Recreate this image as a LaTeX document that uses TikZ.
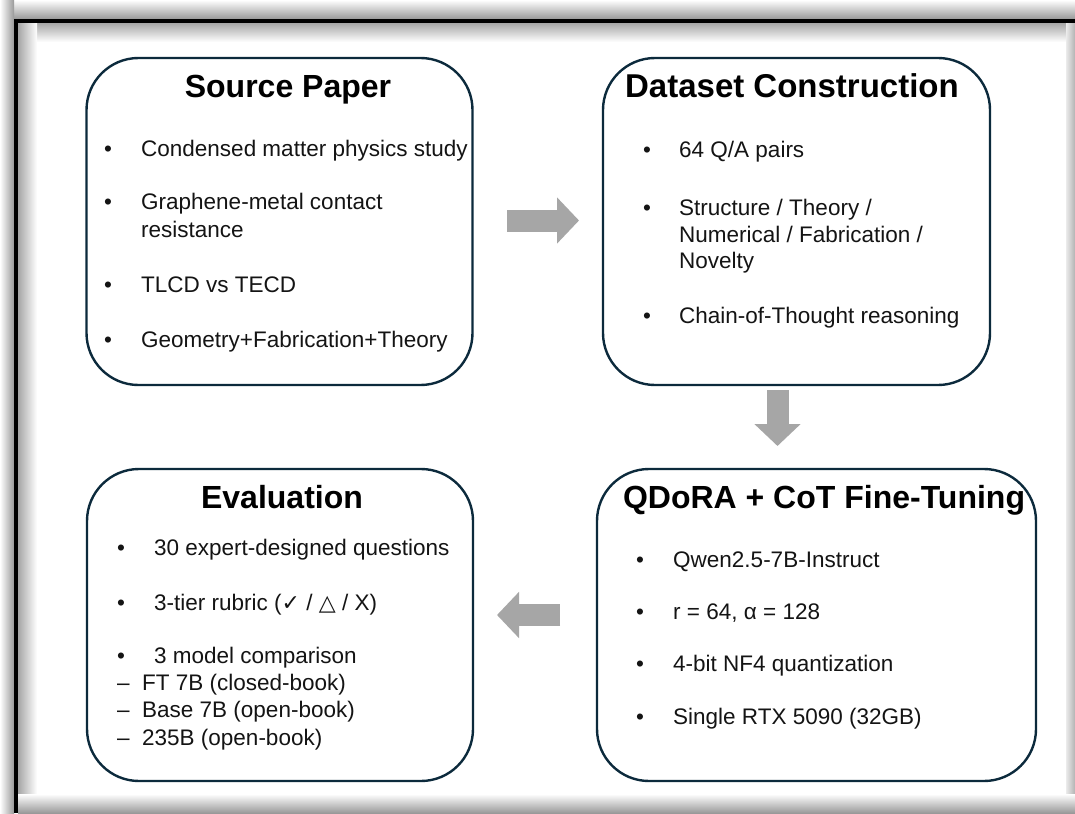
\documentclass[tikz,border=0pt]{standalone}
\usepackage{fontspec}
\setmainfont{Liberation Sans}
\newfontfamily\symfont{DejaVu Sans}
\usetikzlibrary{arrows.meta,calc}
\definecolor{boxline}{HTML}{0C2A3C}
\definecolor{arrowgray}{HTML}{A6A6A6}
\definecolor{textgray}{HTML}{141414}

\begin{document}
\begin{tikzpicture}[x=1pt,y=-1pt]
\tikzset{
  stage/.style={draw=boxline, line width=2.4pt, rounded corners=52pt, fill=white,
    inner sep=0pt, outer sep=0pt},
  heading/.style={font=\bfseries\fontsize{32}{38}\selectfont, anchor=base, inner sep=0pt},
  entry/.style={font=\fontsize{22.5}{27}\selectfont, text=textgray, anchor=base west, inner sep=0pt},
  dot/.style={font=\fontsize{22.5}{27}\selectfont, text=textgray, anchor=base, inner sep=0pt},
  flow/.style={draw=arrowgray, line width=22pt, -{Triangle[length=22pt,width=45pt]}},
}
\useasboundingbox (0,0) rectangle (1075,813);

% frame with shadow
\fill[white] (0,0) rectangle (1075,813);
\shade[top color=white, bottom color=black!40] (0,0) rectangle (1075,19);
\shade[left color=white, right color=black!40] (0,0) rectangle (14,813);
\shade[top color=black!35, bottom color=white] (18,23) rectangle (1075,42);
\shade[left color=black!35, right color=white] (18,23) rectangle (37,813);
\shade[left color=black!8, right color=black!30] (1066,23) rectangle (1075,813);
\shade[top color=white, bottom color=black!40] (18,794) rectangle (1075,813);
\draw[line width=4pt] (16,813) -- (16,21) -- (1075,21);

% the four stages
\node[stage, minimum width=386pt, minimum height=327pt] (src) at (279.5,221.5) {};
\node[stage, minimum width=387pt, minimum height=327pt] (data) at (796.5,221.5) {};
\node[stage, minimum width=386pt, minimum height=312pt] (eval) at (280,625) {};
\node[stage, minimum width=439pt, minimum height=312pt] (tune) at (816.5,625) {};

% headings
\node[heading] (src-h) at (288,98) {Source Paper};
\node[heading, font=\bfseries\fontsize{33}{39}\selectfont] (data-h) at (792,98) {Dataset Construction};
\node[heading] (eval-h) at (282,508) {Evaluation};
\node[heading] (tune-h) at (824,508) {QDoRA + CoT Fine-Tuning};

% Source Paper
\foreach \y [count=\n] in {157,209,292,347}
  \node[dot] (src-b\n) at (108,\y) {•};
\foreach \y/\t [count=\n] in {
    157/{Condensed matter physics study},
    209/{Graphene-metal contact},
    237/{resistance},
    292/{TLCD vs TECD},
    347/{Geometry+Fabrication+Theory}}
  \node[entry] (src-\n) at (141,\y) {\t};

% Dataset Construction
\foreach \y [count=\n] in {158,215,323}
  \node[dot] (data-b\n) at (647,\y) {•};
\foreach \y/\t [count=\n] in {
    158/{64 Q/A pairs},
    215/{Structure / Theory /},
    242/{Numerical / Fabrication /},
    268/{Novelty},
    323/{Chain-of-Thought reasoning}}
  \node[entry] (data-\n) at (679,\y) {\t};

% QDoRA + CoT Fine-Tuning
\foreach \y/\t [count=\n] in {
    567/{Qwen2.5-7B-Instruct},
    619/{r = 64, α = 128},
    671/{4-bit NF4 quantization},
    724/{Single RTX 5090 (32GB)}}{
  \node[dot] (tune-b\n) at (640,\y) {•};
  \node[entry] (tune-\n) at (673,\y) {\t};
}

% Evaluation
\foreach \y/\t [count=\n] in {
    555/{30 expert-designed questions},
    610/{3-tier rubric ({\symfont\fontsize{22}{26}\selectfont ✓} / {\symfont\fontsize{22}{26}\selectfont △} / X)},
    663/{3 model comparison}}{
  \node[dot] (eval-b\n) at (121,\y) {•};
  \node[entry] (eval-\n) at (154,\y) {\t};
}
\foreach \y/\t [count=\n] in {
    690/{FT 7B (closed-book)},
    717/{Base 7B (open-book)},
    745/{235B (open-book)}}
  \node[entry] (eval-s\n) at (117,\y) {\makebox[25pt][l]{–}\t};

% block arrows between stages
\draw[flow] ($(src.east)+(34.5,-1)$) -- ($(data.west)+(-24,-1)$);
\draw[flow] ($(data.south)+(-19,5)$) -- ($(tune.north)+(-39,-23)$);
\draw[flow] ($(tune.west)+(-37,-10)$) -- ($(eval.east)+(24,-10)$);
\end{tikzpicture}
\end{document}
